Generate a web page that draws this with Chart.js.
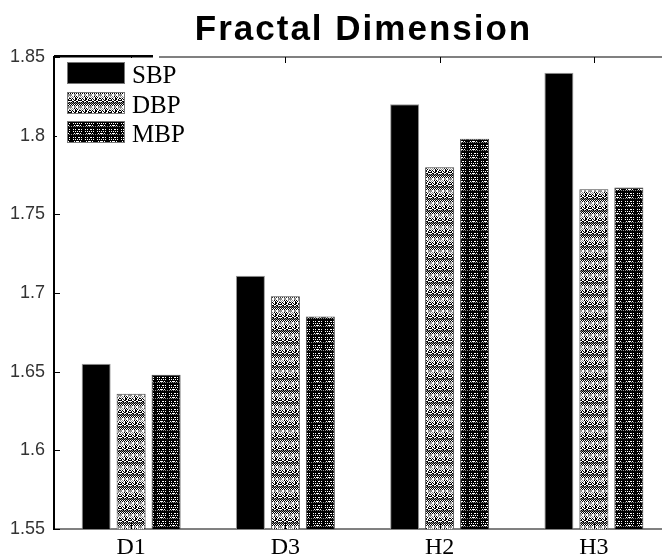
<!DOCTYPE html>
<html>
<head>
<meta charset="utf-8">
<script src="https://cdn.jsdelivr.net/npm/chart.js@4.4.0/dist/chart.umd.min.js"></script>
<style>
html,body{margin:0;padding:0;background:#fff;overflow:hidden;width:662px;height:557px;}
#wrap{position:absolute;left:0;top:0;width:690px;height:557px;}
</style>
</head>
<body>
<div id="wrap"><canvas id="c" width="690" height="557"></canvas></div>
<script>
const categories = ['D1', 'D3', 'H2', 'H3'];
const seriesNames = ['SBP', 'DBP', 'MBP'];
const sbpValues = [1.655, 1.711, 1.820, 1.840];
const dbpValues = [1.636, 1.698, 1.780, 1.766];
const mbpValues = [1.648, 1.685, 1.798, 1.767];
const yTickValues = [1.55, 1.6, 1.65, 1.7, 1.75, 1.8, 1.85];
const yTickLabels = ['1.55', '1.6', '1.65', '1.7', '1.75', '1.8', '1.85'];
const chartTitle = 'Fractal Dimension';

function makePattern(rows) {
  const h = rows.length, w = rows[0].length;
  const cv = document.createElement('canvas');
  cv.width = w; cv.height = h;
  const g = cv.getContext('2d');
  for (let y = 0; y < h; y++) {
    for (let x = 0; x < w; x++) {
      const ch = rows[y][x];
      g.fillStyle = ch === '#' ? '#000' : (ch === '+' ? '#8c8c8c' : '#fff');
      g.fillRect(x, y, 1, 1);
    }
  }
  return document.getElementById('c').getContext('2d').createPattern(cv, 'repeat');
}

const dbpPattern = makePattern([
  '+.+.#.#.+.',
  '.+.+.#.#.+',
  '#.#..##..#',
  '.#.#.##.#.',
  '##..##..##',
  '..##..##..',
  '+#+#+#+#+#',
  '#+#+#+#+#+',
  '.#.#.#.#.#',
  '#.#.#.#.#.',
  '++..++..++',
  '++..++..++'
]);
const mbpPattern = makePattern([
  '############',
  '#.#.##..#.##',
  '############',
  '#.#.#.#.#.##',
  '############',
  '##.#...#.###',
  '#+#+#+#+#+#+',
  '############'
]);

const decorPlugin = {
  id: 'decor',
  afterDraw(chart) {
    const ctx = chart.ctx;
    const a = chart.chartArea;
    const xs = chart.scales.x, ys = chart.scales.y;
    ctx.save();
    // top axis line
    ctx.strokeStyle = '#808080';
    ctx.lineWidth = 2;
    ctx.beginPath();
    ctx.moveTo(a.left, a.top);
    ctx.lineTo(a.right, a.top);
    ctx.stroke();
    // inward ticks
    ctx.strokeStyle = '#000';
    ctx.lineWidth = 1;
    ys.ticks.forEach((t, i) => {
      const py = Math.round(ys.getPixelForTick(i)) + 0.5;
      ctx.beginPath();
      ctx.moveTo(a.left, py);
      ctx.lineTo(a.left + 6, py);
      ctx.stroke();
    });
    categories.forEach((c, i) => {
      const px = Math.round(xs.getPixelForValue(i)) + 0.5;
      ctx.beginPath();
      ctx.moveTo(px, a.bottom);
      ctx.lineTo(px, a.bottom - 6);
      ctx.moveTo(px, a.top);
      ctx.lineTo(px, a.top + 6);
      ctx.stroke();
    });
    // legend
    const lx = a.left + 3, ly = a.top + 1;
    ctx.fillStyle = '#fff';
    ctx.fillRect(lx, ly, 102, 95);
    ctx.fillRect(a.left + 99, a.top - 2, 6, 4);
    ctx.strokeStyle = '#000';
    ctx.lineWidth = 2;
    ctx.beginPath();
    ctx.moveTo(a.left, a.top - 1);
    ctx.lineTo(a.left + 99, a.top - 1);
    ctx.stroke();
    const rowsY = [62, 92, 121];
    chart.data.datasets.forEach((ds, i) => {
      const y0 = rowsY[i];
      ctx.fillStyle = ds.backgroundColor;
      ctx.fillRect(67, y0, 58, 22);
      ctx.strokeStyle = '#777';
      ctx.lineWidth = 1;
      ctx.strokeRect(67.5, y0 + 0.5, 57, 21);
      ctx.fillStyle = '#000';
      ctx.font = '25px "Liberation Serif", "Times New Roman", serif';
      ctx.textBaseline = 'alphabetic';
      ctx.textAlign = 'left';
      ctx.fillText(ds.label, 132, y0 + 21);
    });
    // title
    ctx.fillStyle = '#000';
    ctx.font = 'bold 35px "Liberation Sans", Arial, sans-serif';
    if ('letterSpacing' in ctx) ctx.letterSpacing = '2px';
    ctx.textAlign = 'center';
    ctx.textBaseline = 'alphabetic';
    ctx.fillText(chartTitle, (a.left + a.right) / 2 + 1, 40);
    ctx.restore();
  }
};

new Chart(document.getElementById('c'), {
  type: 'bar',
  data: {
    labels: categories,
    datasets: [
      { label: seriesNames[0], data: sbpValues, backgroundColor: '#000', borderColor: '#999', borderWidth: 1 },
      { label: seriesNames[1], data: dbpValues, backgroundColor: dbpPattern, borderColor: '#444', borderWidth: 1 },
      { label: seriesNames[2], data: mbpValues, backgroundColor: mbpPattern, borderColor: '#444', borderWidth: 1 }
    ]
  },
  options: {
    responsive: false,
    animation: false,
    devicePixelRatio: 1,
    layout: { padding: { top: 57, right: 19, left: 0, bottom: 0 } },
    datasets: { bar: { categoryPercentage: 0.68, barPercentage: 0.83, borderSkipped: 'start' } },
    plugins: { legend: { display: false }, title: { display: false }, tooltip: { enabled: false } },
    scales: {
      x: {
        grid: { display: false, drawTicks: false },
        border: { display: true, color: '#808080', width: 2 },
        ticks: { color: '#000', padding: 4, font: { family: '"Liberation Serif", "Times New Roman", serif', size: 24 } },
        afterFit(s) { s.height = 28; }
      },
      y: {
        min: 1.55, max: 1.85,
        grid: { display: false, drawTicks: false },
        border: { display: true, color: '#000', width: 2 },
        afterBuildTicks(s) { s.ticks = yTickValues.map(v => ({ value: v })); },
        ticks: {
          color: '#333', padding: 9,
          font: { family: '"Liberation Sans", Arial, sans-serif', size: 18 },
          callback(v, i) { return yTickLabels[i]; }
        },
        afterFit(s) { s.width = 54; }
      }
    }
  },
  plugins: [decorPlugin]
});
</script>
</body>
</html>
